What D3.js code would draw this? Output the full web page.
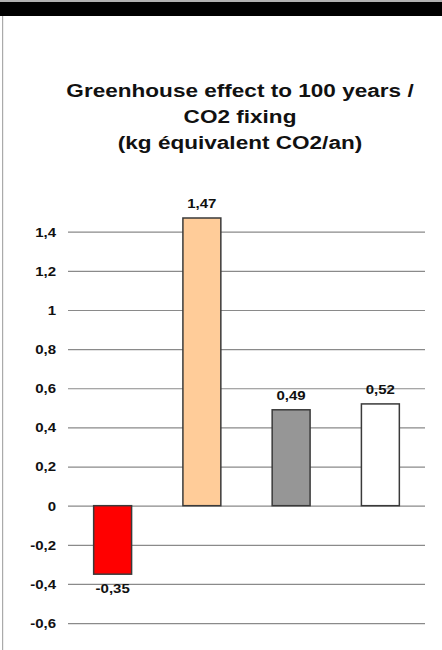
<!DOCTYPE html>
<html>
<head>
<meta charset="utf-8">
<script src="https://cdn.jsdelivr.net/npm/d3@7"></script>
<style>
  html, body { margin: 0; padding: 0; background: #fff; }
  svg { display: block; }
  text { font-family: "Liberation Sans", Arial, sans-serif; font-weight: bold; fill: #111; }
</style>
</head>
<body>
<svg id="chart" width="442" height="650"></svg>
<script>
const titleLines = ["Greenhouse effect to 100 years /", "CO2 fixing", "(kg équivalent CO2/an)"];
const categories = ["Bar 1", "Bar 2", "Bar 3", "Bar 4"];
const values = [-0.35, 1.47, 0.49, 0.52];
const barColors = ["#ff0000", "#ffcc99", "#969696", "#ffffff"];
const tickValues = [-0.6, -0.4, -0.2, 0, 0.2, 0.4, 0.6, 0.8, 1, 1.2, 1.4];

const W = 442, H = 650;
const svg = d3.select("#chart");
const stretch = 1.22;

const loc = d3.formatLocale({decimal: ",", thousands: " ", grouping: [3], currency: ["", ""], minus: "-"});
const fmtTick = v => loc.format("~g")(+v.toFixed(2));
const fmtVal = loc.format(".2f");

// frame: black band at top, gray left border
svg.append("rect").attr("x", 0).attr("y", 0).attr("width", W).attr("height", 2).attr("fill", "#b0b0b0");
svg.append("rect").attr("x", 0).attr("y", 2).attr("width", W).attr("height", 14).attr("fill", "#000");
svg.append("rect").attr("x", 2).attr("y", 16).attr("width", 1.2).attr("height", H - 16).attr("fill", "#aaaaaa");

// title
const titleX = 240, titleY0 = 96.5, titleStep = 26;
svg.append("g").selectAll("text").data(titleLines).join("text")
  .attr("text-anchor", "middle")
  .attr("font-size", 18.5)
  .attr("transform", (d, i) => `translate(${titleX},${titleY0 + i * titleStep}) scale(${stretch},1)`)
  .text(d => d);

// scales
const x = d3.scaleBand().domain(categories).range([68, 425]).paddingInner(0.575).paddingOuter(0.2875);
const y = d3.scaleLinear().domain([-0.6, 1.4]).range([623.1, 231.7]);

// axis with gridlines
const axis = svg.append("g").attr("transform", "translate(68,0)")
  .call(d3.axisLeft(y).tickValues(tickValues).tickSize(-(425 - 68)).tickPadding(12).tickFormat(fmtTick));
axis.select(".domain").remove();
axis.selectAll(".tick line").attr("stroke", "#8a8a8a").attr("stroke-width", 1.2);
axis.selectAll(".tick text")
  .attr("font-size", 12)
  .attr("fill", "#111")
  .attr("font-family", "'Liberation Sans', Arial, sans-serif")
  .attr("font-weight", "bold")
  .attr("x", null).attr("dy", null)
  .attr("transform", `translate(-12,0) scale(1.25,1)`)
  .attr("dy", "0.36em");

// bars
const data = categories.map((c, i) => ({c, v: values[i], color: barColors[i]}));
svg.append("g").selectAll("rect").data(data).join("rect")
  .attr("x", d => x(d.c))
  .attr("y", d => y(Math.max(0, d.v)))
  .attr("width", x.bandwidth())
  .attr("height", d => Math.abs(y(d.v) - y(0)))
  .attr("fill", d => d.color)
  .attr("stroke", "#3a3a3a")
  .attr("stroke-width", 1.5);

// value labels
svg.append("g").selectAll("text").data(data).join("text")
  .attr("text-anchor", "middle")
  .attr("font-size", 12)
  .attr("transform", d => {
    const cx = x(d.c) + x.bandwidth() / 2;
    const by = d.v >= 0 ? y(d.v) - 10 : y(d.v) + 18.5;
    return `translate(${cx},${by}) scale(1.25,1)`;
  })
  .text(d => fmtVal(d.v));
</script>
</body>
</html>
